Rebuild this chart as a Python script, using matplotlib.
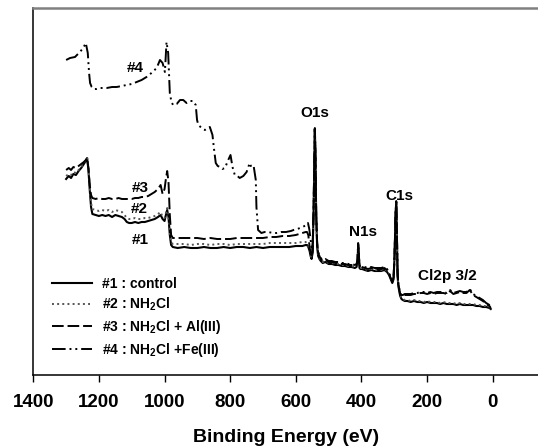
import matplotlib
matplotlib.use("Agg")
import matplotlib.pyplot as plt

plt.rcParams['font.family'] = ['Liberation Sans', 'DejaVu Sans']
plt.rcParams['font.weight'] = 'bold'
plt.rcParams['mathtext.fontset'] = 'custom'
plt.rcParams['mathtext.rm'] = 'Liberation Sans:bold'
plt.rcParams['mathtext.it'] = 'Liberation Sans:bold'
plt.rcParams['mathtext.bf'] = 'Liberation Sans:bold'

# ---------------- data (binding energy eV, intensity a.u.) ----------------
# shared low-energy part (O1s .. end) for the lower traces
e_low = [566, 562, 558, 555, 552, 549, 546, 544, 542, 540, 538, 535, 532, 528, 524, 518,
         510, 500, 490, 480, 470, 460, 450, 440, 430, 420, 415, 412, 410, 408, 406, 403,
         398, 390, 380, 370, 360, 350, 340, 330, 322, 316, 311, 306, 302, 299, 296, 294,
         292, 290, 288, 285, 282, 278, 274, 268, 260, 250, 240, 230, 220, 210, 200, 190,
         180, 170, 160, 150, 140, 130, 120, 110, 100, 90, 80, 70, 60, 50, 40, 30, 20, 10, 6]
i_low1 = [130, 128, 124, 119, 116, 122, 160, 205, 246, 215, 160, 128, 119, 116, 114, 112,
          113, 111, 111, 110, 110, 109, 109, 108, 108, 107, 108, 112, 130, 118, 107, 106,
          106, 105, 104, 105, 104, 104, 104, 105, 103, 100, 96, 92, 96, 120, 160, 173,
          140, 100, 90, 84, 79, 76, 75, 74, 74, 73, 74, 73, 73, 72, 73, 72,
          72, 72, 71, 72, 71, 71, 71, 70, 71, 70, 70, 70, 70, 69, 69, 68, 68, 67, 66]
i_low3 = [143, 140, 128, 121, 118, 124, 162, 206, 246, 216, 162, 131, 122, 119, 116, 114,
          115, 113, 113, 112, 112, 111, 111, 110, 110, 109, 110, 114, 131, 120, 109, 108,
          108, 107, 106, 107, 106, 106, 106, 107, 105, 101, 97, 93, 97, 121, 161, 173,
          142, 102, 92, 86, 81, 79, 79, 80, 80, 80, 81, 81, 82, 82, 81, 82,
          81, 82, 82, 82, 81, 84, 81, 82, 83, 82, 82, 85, 80, 78, 76, 74, 71, 69, 67]

# high-energy part of trace #1 (control)
e_hi1 = [1300, 1292, 1285, 1278, 1270, 1262, 1254, 1246, 1240, 1236, 1232, 1228, 1224,
         1220, 1210, 1200, 1190, 1180, 1170, 1160, 1150, 1140, 1130, 1122, 1115, 1108,
         1100, 1090, 1080, 1070, 1060, 1050, 1040, 1030, 1020, 1012, 1006, 1000, 996,
         992, 988, 984, 980, 975, 960, 940, 920, 900, 880, 860, 840, 820, 800, 780, 760,
         740, 720, 700, 680, 660, 640, 620, 600, 580, 570]
i_hi1 = [196, 199, 197, 201, 200, 204, 207, 211, 214, 217, 205, 185, 168,
         161, 160, 159, 160, 159, 160, 158, 160, 159, 158, 156, 153, 152,
         152, 153, 152, 153, 153, 154, 155, 156, 158, 160, 156, 154, 160,
         165, 158, 140, 130, 128, 127, 128, 127, 127, 128, 127, 127, 128, 127, 128, 128,
         127, 128, 127, 128, 128, 128, 128, 129, 129, 130]
# trace #2 (NH2Cl)
i_hi2 = [199, 201, 200, 203, 202, 205, 208, 212, 215, 217, 207, 188, 172,
         166, 165, 164, 165, 164, 165, 163, 165, 164, 163, 160, 157, 156,
         156, 157, 156, 156, 157, 157, 158, 159, 161, 163, 158, 157, 162,
         167, 160, 143, 133, 131, 131, 131, 130, 131, 131, 130, 131, 131, 130, 131, 131,
         131, 131, 131, 132, 132, 132, 132, 132, 133, 133]
# trace #3 (NH2Cl + Al(III))
i_hi3 = [205, 207, 205, 208, 207, 209, 211, 213, 215, 217, 207, 190, 180,
         177, 176, 177, 176, 176, 177, 176, 176, 177, 176, 176, 176, 176,
         176, 177, 177, 178, 178, 179, 181, 183, 186, 190, 181, 186, 196,
         204, 193, 160, 140, 137, 137, 137, 137, 137, 136, 137, 136, 136, 136, 137, 137,
         137, 137, 137, 138, 138, 139, 139, 140, 142, 143]

# trace #4 (NH2Cl + Fe(III)), high-energy part
e_hi4 = [1300, 1288, 1273, 1258, 1248, 1240, 1234, 1230, 1227, 1222, 1215, 1207, 1195,
         1176, 1160, 1146, 1130, 1116, 1100, 1085, 1070, 1055, 1040, 1024, 1014, 1006,
         999, 994, 989, 984, 979, 974, 963, 953, 943, 933, 923, 913, 905, 901, 897,
         887, 877, 870, 862, 854, 850, 844, 838, 831, 824, 816, 806, 799, 793, 786,
         778, 771, 760, 750, 745, 740, 735, 728, 722, 720, 715, 705, 695, 684, 670,
         659, 645, 630, 615, 607, 595, 580, 567, 563, 559, 556, 553, 550]
i_hi4 = [315, 317, 318, 323, 327, 332, 322, 302, 292, 288, 286, 286, 287,
         287, 288, 288, 289, 290, 291, 293, 295, 298, 302, 307, 315, 312,
         303, 333, 322, 282, 273, 270, 271, 275, 275, 272, 274, 274, 270, 255, 250,
         247, 245, 247, 248, 240, 228, 212, 209, 208, 206, 207, 215, 220, 208, 200,
         199, 197, 199, 203, 208, 212, 207, 208, 195, 168, 145, 142, 143, 143, 142,
         142, 143, 143, 144, 145, 146, 148, 150, 152, 146, 138, 130, 122]

xticks = [1400, 1200, 1000, 800, 600, 400, 200, 0]
legend_labels = ['#1 : control', '#2 : NH$_2$Cl', '#3 : NH$_2$Cl + Al(III)',
                 '#4 : NH$_2$Cl +Fe(III)']
peak_labels = ['O1s', 'C1s', 'N1s', 'Cl2p 3/2']
peak_pos = [(542, 262), (284, 179), (394, 143.5), (138, 99)]
trace_labels = ['#4', '#3', '#2', '#1']
trace_pos = [(1088, 307), (1073, 187), (1078, 166), (1075, 135)]

# ---------------- figure ----------------
fig = plt.figure(figsize=(5.38, 4.46), dpi=100)
ax = fig.add_axes([33.3 / 538, 1 - 375 / 446, 1 - 33.3 / 538, (375 - 8) / 446])

e1 = e_hi1 + e_low
dash_dot_dot = (0, (7, 2, 1, 2, 1, 2))
ax.plot(e1, i_hi1 + i_low1, color='black', lw=1.5, ls='-', label=legend_labels[0])
ax.plot(e1, i_hi2 + [v + 1 for v in i_low1], color='#555555', lw=1.4, ls=':',
        label=legend_labels[1])
ax.plot(e1, i_hi3 + i_low3, color='black', lw=1.4, ls=(0, (6, 2)), label=legend_labels[2])
e4 = e_hi4 + e_low[5:]
ax.plot(e4, i_hi4 + [v + 1 for v in i_low3[5:]], color='black', lw=1.4, ls=dash_dot_dot,
        label=legend_labels[3])

ax.set_xlim(1400, -138)
ax.set_ylim(0, 367)
ax.set_xticks(xticks)
ax.set_xticklabels([str(t) for t in xticks], fontsize=13.5, fontweight='bold')
ax.set_yticks([])
ax.tick_params(axis='x', direction='out', length=5, width=1, pad=9)
ax.spines['right'].set_visible(False)
ax.spines['top'].set_color('#808080')
ax.spines['top'].set_linewidth(1.8)
for s in ['left', 'bottom']:
    ax.spines[s].set_color('black')
    ax.spines[s].set_linewidth(1.1)

ax.set_xlabel('Binding Energy (eV)', fontsize=14, fontweight='bold')
ax.xaxis.set_label_coords(0.5, (375 - 437) / 367)
ax.xaxis.label.set_va('center')

for txt, (x, y) in zip(peak_labels, peak_pos):
    ax.text(x, y, txt, fontsize=11, fontweight='bold', ha='center', va='center')
for txt, (x, y) in zip(trace_labels, trace_pos):
    ax.text(x, y, txt, fontsize=11, fontweight='bold', ha='center', va='center')

leg = ax.legend(loc='upper left', bbox_to_anchor=(0.038, (375 - 277) / 367), frameon=False,
                fontsize=10, handlelength=2.85, labelspacing=0.35, handletextpad=0.7,
                borderaxespad=0, borderpad=0)
for t in leg.get_texts():
    t.set_fontweight('bold')

fig.savefig('out.png', dpi=100)
